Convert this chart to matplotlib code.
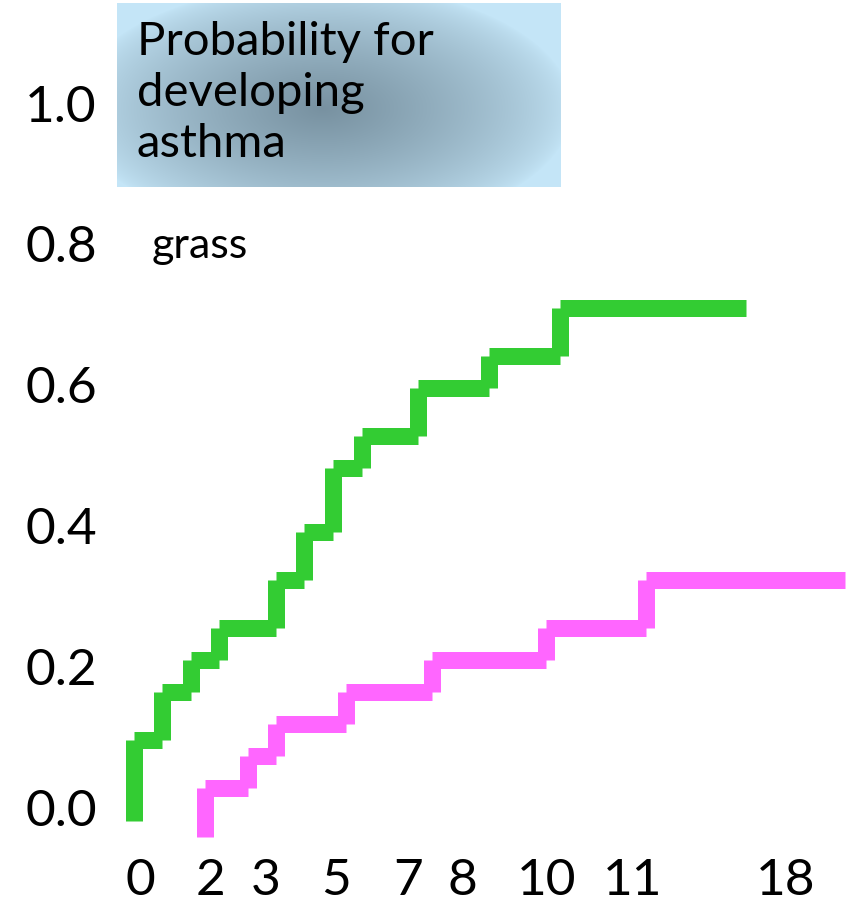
import numpy as np
import matplotlib
matplotlib.use('Agg')
from matplotlib import pyplot as plt
from matplotlib.collections import LineCollection

plt.rcParams['font.family'] = ['Lato', 'DejaVu Sans']

# x positions along the (non-linear) age axis, in axis units
tick_pos = [140, 210, 266, 336, 408, 462, 547, 633, 786]
tick_labels = ['0', '2', '3', '5', '7', '8', '10', '11', '18']
y_ticks = [0.0, 0.2, 0.4, 0.6, 0.8, 1.0]

# green curve: jump positions, start value, levels after each jump, end
green_x = [134, 162, 191, 219, 276, 304, 333, 362, 418, 489, 560]
green_start = -0.019
green_y = [0.096, 0.164, 0.209, 0.255, 0.323, 0.391, 0.482, 0.527, 0.595, 0.641, 0.709]
green_end = 746

# magenta curve
pink_x = [205, 248, 276, 346, 432, 546, 646]
pink_start = -0.042
pink_y = [0.028, 0.073, 0.119, 0.164, 0.209, 0.255, 0.323]
pink_end = 845


def step_segments(xs, start, ys, end):
    # separate butt-capped pieces, like the original drawing
    segs = [[(xs[0], start), (xs[0], ys[0])]]
    for i in range(len(xs)):
        x_next = xs[i + 1] if i + 1 < len(xs) else end
        segs.append([(xs[i], ys[i]), (x_next, ys[i])])
        if i + 1 < len(xs):
            segs.append([(xs[i + 1], ys[i]), (xs[i + 1], ys[i + 1])])
    return segs


W, H = 853, 905
fig = plt.figure(figsize=(W / 100, H / 100), dpi=100)

left, right, bottom_px = 115, 853, 845
ax = fig.add_axes([left / W, (H - bottom_px) / H, (right - left) / W, bottom_px / H])
ax.set_xlim(left, right)
ax.set_ylim((807.5 - bottom_px) / 704.5, 807.5 / 704.5)

lw = 17 * 72 / 100
ax.add_collection(LineCollection(step_segments(green_x, green_start, green_y, green_end),
                                 colors='#33cc33', linewidths=lw, capstyle='butt'))
ax.add_collection(LineCollection(step_segments(pink_x, pink_start, pink_y, pink_end),
                                 colors='#ff66ff', linewidths=lw, capstyle='butt'))

ax.set_xticks(tick_pos)
ax.set_xticklabels(tick_labels)
ax.set_yticks(y_ticks)
ax.set_yticklabels(['%.1f' % v for v in y_ticks])
ax.tick_params(axis='both', length=0, labelsize=37)
ax.tick_params(axis='y', pad=13)
ax.tick_params(axis='x', pad=9)
for s in ax.spines.values():
    s.set_visible(False)

# title box with radial shading
bx0, by0, bx1, by1 = 117, 3, 561, 187
box = fig.add_axes([bx0 / W, (H - by1) / H, (bx1 - bx0) / W, (by1 - by0) / H])
gx, gy = np.meshgrid(np.arange(bx1 - bx0), np.arange(by1 - by0))
d = np.sqrt(((gx - 205) / 250.0) ** 2 + ((gy - 105) / 125.0) ** 2)
w = np.clip(1 - d, 0, 1) ** 0.7
edge = np.array([0.77, 0.90, 0.97])
center = np.array([0.47, 0.57, 0.63])
img = edge[None, None, :] + (center - edge)[None, None, :] * w[:, :, None]
box.imshow(img, aspect='auto', interpolation='bilinear')
box.axis('off')

fig.text(137 / W, 1 - 21 / H, 'Probability for\ndeveloping\nasthma', fontsize=34,
         va='top', ha='left', linespacing=1.27)
fig.text(152 / W, 1 - 246 / H, 'grass', fontsize=31, va='center', ha='left')

fig.savefig('out.png', dpi=100)
